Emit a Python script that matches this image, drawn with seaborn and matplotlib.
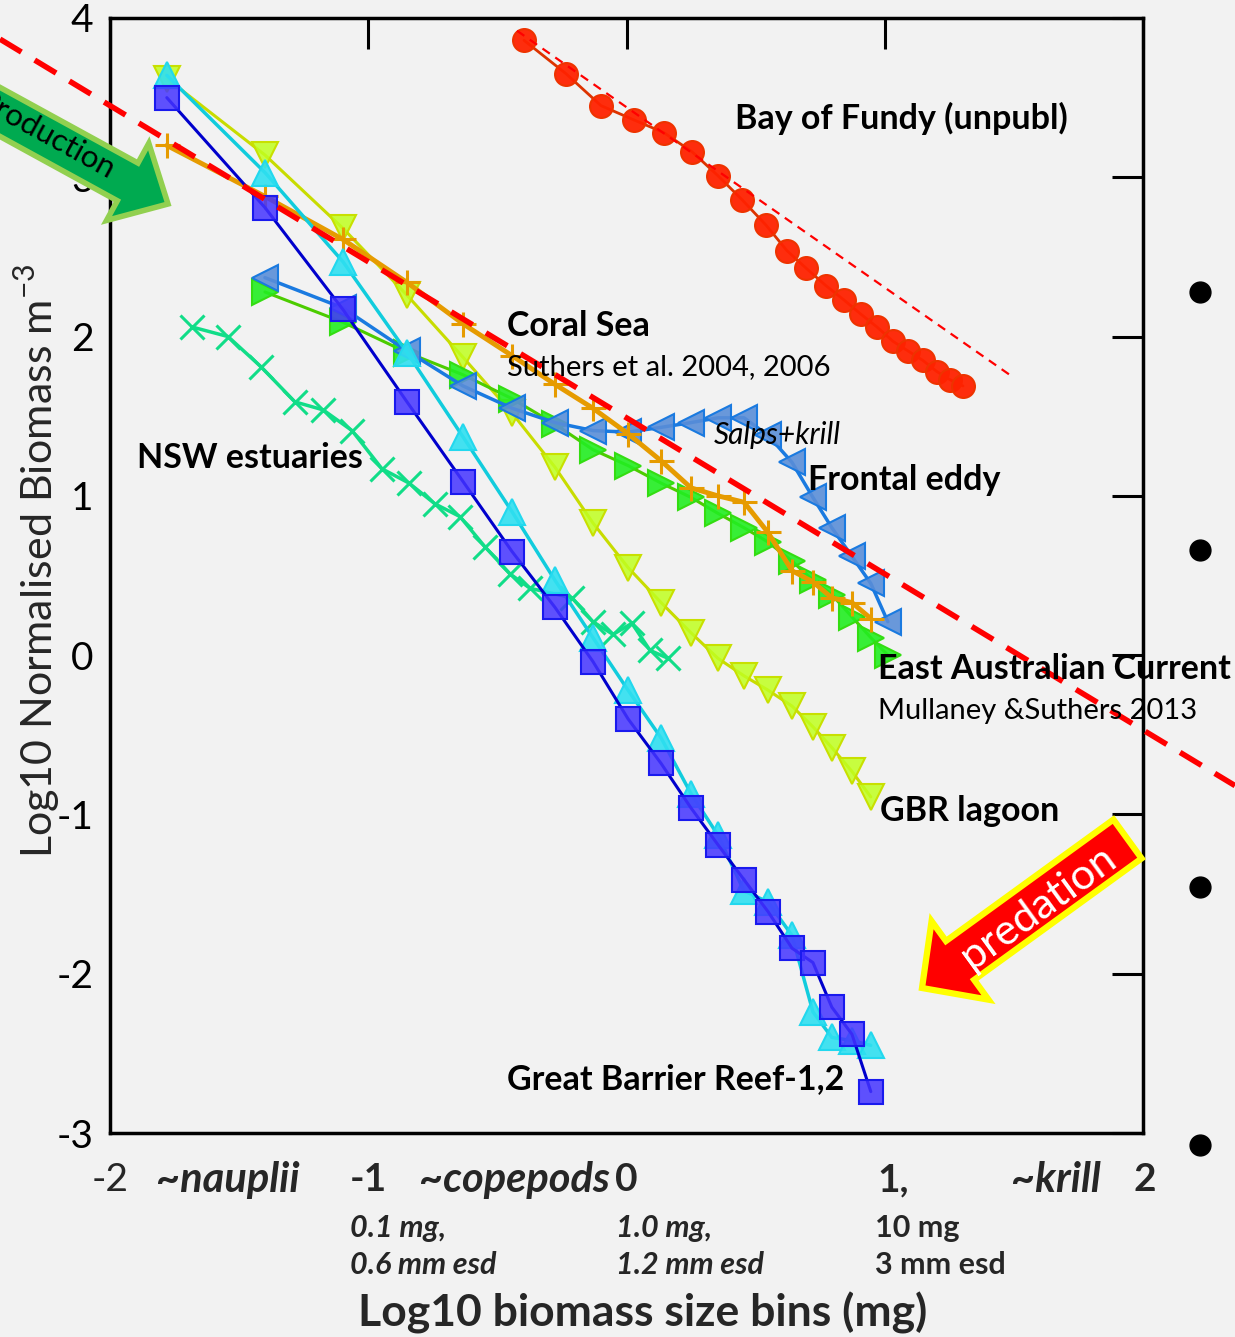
import numpy as np
import pandas as pd
import matplotlib
matplotlib.use("Agg")
import matplotlib.pyplot as plt
import seaborn as sns
from matplotlib.patches import FancyArrow
from matplotlib.lines import Line2D
from matplotlib.transforms import Affine2D

# ---------------- data ----------------
x_bins = [-1.780, -1.400, -1.098, -0.850, -0.633, -0.443, -0.277, -0.130, 0.006,
          0.134, 0.250, 0.354, 0.455, 0.548, 0.641, 0.722, 0.795, 0.873, 0.946]
x_bins_b = [-1.400, -1.098, -0.850, -0.633, -0.443, -0.277, -0.130, 0.006,
            0.134, 0.250, 0.354, 0.455, 0.548, 0.641, 0.722, 0.795, 0.873, 0.946, 1.012]

gbr1_y = [3.50, 2.81, 2.17, 1.59, 1.09, 0.65, 0.30, -0.04, -0.40, -0.68, -0.96,
          -1.19, -1.41, -1.61, -1.84, -1.93, -2.21, -2.38, -2.74]
gbr2_y = [3.64, 3.03, 2.47, 1.90, 1.37, 0.90, 0.47, 0.11, -0.22, -0.52, -0.87,
          -1.13, -1.48, -1.55, -1.76, -2.24, -2.40, -2.42, -2.45]
lagoon_y = [3.62, 3.14, 2.68, 2.26, 1.87, 1.52, 1.18, 0.83, 0.55, 0.33, 0.14,
            -0.02, -0.13, -0.22, -0.32, -0.45, -0.58, -0.73, -0.89]
coral_y = [3.20, 2.88, 2.61, 2.34, 2.08, 1.88, 1.70, 1.55, 1.39, 1.22, 1.05,
           1.00, 0.96, 0.77, 0.53, 0.46, 0.36, 0.33, 0.23]
eac_y = [2.28, 2.09, 1.90, 1.76, 1.61, 1.45, 1.29, 1.19, 1.08, 0.99, 0.89,
         0.80, 0.71, 0.59, 0.47, 0.38, 0.24, 0.11, 0.00]
eddy_y = [2.37, 2.18, 1.91, 1.69, 1.55, 1.46, 1.41, 1.40, 1.43, 1.46, 1.49,
          1.49, 1.38, 1.21, 0.99, 0.80, 0.62, 0.45, 0.21]

nsw_x = [-1.682, -1.543, -1.415, -1.284, -1.175, -1.063, -0.947, -0.842, -0.742,
         -0.645, -0.548, -0.451, -0.374, -0.211, -0.130, -0.052, 0.021, 0.091, 0.161]
nsw_y = [2.06, 2.00, 1.81, 1.59, 1.54, 1.41, 1.17, 1.08, 0.95, 0.87, 0.68, 0.51,
         0.42, 0.36, 0.21, 0.13, 0.20, 0.03, -0.02]

fundy_x = [-0.397, -0.234, -0.099, 0.029, 0.145, 0.254, 0.354, 0.447, 0.540, 0.621,
           0.695, 0.772, 0.842, 0.908, 0.970, 1.032, 1.090, 1.148, 1.202, 1.252, 1.303]
fundy_y = [3.86, 3.65, 3.45, 3.36, 3.28, 3.16, 3.01, 2.86, 2.70, 2.54, 2.43, 2.32,
           2.23, 2.14, 2.06, 1.97, 1.91, 1.85, 1.78, 1.73, 1.69]

# reference slopes
prod_line = {"intercept": 1.49, "slope": -0.98}
fundy_fit_x = [-0.424, 1.497]
fundy_fit_y = [3.92, 1.745]

y_ticks = [-3, -2, -1, 0, 1, 2, 3, 4]
x_ticks = [-2, -1, 0, 1, 2]

# ---------------- style ----------------
BG = "#f2f2f2"
sns.set_theme(style="white")
plt.rcParams["font.family"] = ["Lato", "DejaVu Sans"]
plt.rcParams["axes.unicode_minus"] = False
plt.rcParams["mathtext.fontset"] = "custom"
plt.rcParams["mathtext.rm"] = "Lato"

W, H = 1235, 1337
fig = plt.figure(figsize=(W / 100, H / 100), dpi=100, facecolor=BG)
ax = fig.add_axes([110 / W, 1 - 1133 / H, 1033 / W, 1115 / H])
ax.set_facecolor(BG)
ax.set_xlim(-2, 2)
ax.set_ylim(-3, 4)
for s in ax.spines.values():
    s.set_visible(True)
    s.set_color("black")
    s.set_linewidth(2.5)
ax.set_xticks(x_ticks)
ax.set_xticklabels([])
ax.set_yticks(y_ticks)
ax.set_yticklabels([str(v) for v in y_ticks])
ax.tick_params(direction="in", length=22, width=2.2, top=True, right=True,
               labelsize=28, pad=12, colors="black")

pix = Affine2D().scale(1 / 100.0) + fig.dpi_scale_trans  # image-pixel (y up)


def rgba(hexc, a):
    c = matplotlib.colors.to_rgba(hexc)
    return (c[0], c[1], c[2], a)


def series(xs, ys, marker, ms, line, face, edge, lw=2.0, mew=1.5, z=3):
    sns.lineplot(x=xs, y=ys, ax=ax, sort=False, estimator=None, color=line,
                 linewidth=lw, marker=marker, markersize=ms,
                 markerfacecolor=face, markeredgecolor=edge,
                 markeredgewidth=mew, zorder=z)


# NSW estuaries
series(nsw_x, nsw_y, "x", 17, "#11dd88", "#11dd88", "#11dd88", lw=2.5, mew=2.2, z=3)
# GBR lagoon
series(x_bins, lagoon_y, "v", 19, "#c8dc00", rgba("#c0ff20", 0.85), "#c8e000", lw=2.2, z=3)
# EAC
series(x_bins_b, eac_y, ">", 19, "#4ccc00", rgba("#22ee22", 0.9), "#33dd11", lw=2.2, z=4)
# Frontal eddy
series(x_bins_b, eddy_y, "<", 19, "#1a7ae0", rgba("#5a8ed8", 0.9), "#1a7ae0", lw=2.5, z=4)
# Coral Sea
series(x_bins, coral_y, "+", 18, "#e69b00", "#e69b00", "#e69b00", lw=3.5, mew=2.2, z=5)
# GBR-2
series(x_bins, gbr2_y, "^", 19, "#11ccdd", rgba("#30e0f0", 0.9), "#22d8ee", lw=2.5, z=5)
# GBR-1
series(x_bins, gbr1_y, "s", 17, "#0000cc", rgba("#4433ff", 0.85), "#1a1aee", lw=2.2, z=6)
# Bay of Fundy
series(fundy_x, fundy_y, "o", 16.5, "#dd3300", rgba("#ff2200", 0.95), "#ee3300", lw=2.0, z=6)

# Bay of Fundy fit (thin dashed)
ax.plot(fundy_fit_x, fundy_fit_y, color="#ff0000", lw=1.6, ls=(0, (4, 3)), zorder=7)

# production slope line (thick dashed, through whole figure width)
inv = ax.transData.inverted()
xl = inv.transform(fig.transFigure.transform((0, 0)))[0]
xr = inv.transform(fig.transFigure.transform((1, 0)))[0]
xx = np.array([xl, xr])
ax.plot(xx, prod_line["intercept"] + prod_line["slope"] * xx, color="#ff0000",
        lw=4, ls=(0, (4.5, 2.8)), zorder=8, clip_on=False)

# ---------------- series labels ----------------
lab = dict(color="black", ha="left", va="center", zorder=9)
BL = 24.5
ax.text(0.419, 3.37, "Bay of Fundy (unpubl)", fontsize=BL, fontweight="bold", **lab)
ax.text(-0.463, 2.065, "Coral Sea", fontsize=BL, fontweight="bold", **lab)
ax.text(-0.463, 1.81, "Suthers et al. 2004, 2006", fontsize=21, **lab)
ax.text(0.339, 1.38, "Salps+krill", fontsize=21.5, fontstyle="italic", **lab)
ax.text(0.703, 1.10, "Frontal eddy", fontsize=BL, fontweight="bold", **lab)
ax.text(-1.895, 1.237, "NSW estuaries", fontsize=BL, fontweight="bold", **lab)
ax.text(0.974, -0.088, "East Australian Current", fontsize=BL, fontweight="bold", **lab)
ax.text(0.974, -0.35, "Mullaney &Suthers 2013", fontsize=21, **lab)
ax.text(0.981, -0.98, "GBR lagoon", fontsize=BL, fontweight="bold", **lab)
ax.text(-0.463, -2.66, "Great Barrier Reef-1,2", fontsize=BL, fontweight="bold", **lab)

# ---------------- x tick labels / annotations ----------------
xt = ax.get_xaxis_transform()
r1 = -0.042
ax.text(-2.0, r1, "-2", transform=xt, fontsize=28, ha="center", va="center")
ax.text(-1.543, r1, "~nauplii", transform=xt, fontsize=30, fontweight="bold",
        fontstyle="italic", ha="center", va="center")
ax.text(-1.0, r1, "-1", transform=xt, fontsize=28, fontweight="bold", ha="center", va="center")
ax.text(-0.432, r1, "~copepods", transform=xt, fontsize=30, fontweight="bold",
        fontstyle="italic", ha="center", va="center")
ax.text(0.0, r1, "0", transform=xt, fontsize=28, fontweight="bold", ha="center", va="center")
ax.text(1.032, r1, "1,", transform=xt, fontsize=28, fontweight="bold", ha="center", va="center")
ax.text(1.663, r1, "~krill", transform=xt, fontsize=30, fontweight="bold",
        fontstyle="italic", ha="center", va="center")
ax.text(2.007, r1, "2", transform=xt, fontsize=28, fontweight="bold", ha="center", va="center")

r2, r3 = -0.085, -0.118
sub = dict(transform=xt, fontsize=22, fontweight="bold", ha="left", va="center")
ax.text(-1.07, r2, "0.1 mg,", fontstyle="italic", **sub)
ax.text(-1.07, r3, "0.6 mm esd", fontstyle="italic", **sub)
ax.text(-0.04, r2, "1.0 mg,", fontstyle="italic", **sub)
ax.text(-0.04, r3, "1.2 mm esd", fontstyle="italic", **sub)
ax.text(0.962, r2, "10 mg", **sub)
ax.text(0.962, r3, "3 mm esd", **sub)

ax.text(0.516, -0.161, "Log10 biomass size bins (mg)", transform=ax.transAxes,
        fontsize=32, fontweight="bold", ha="center", va="center")
ax.text((37 - 110) / 1033, 0.513, "Log10 Normalised Biomass m$^{-3}$",
        transform=ax.transAxes, fontsize=31, rotation=90, ha="center", va="center")

# ---------------- arrows ----------------
g_start = (-40, H - 90)
g_tip = (168, H - 204)
ga = FancyArrow(g_start[0], g_start[1], g_tip[0] - g_start[0], g_tip[1] - g_start[1],
                width=43, head_width=88, head_length=46, length_includes_head=True,
                transform=pix, facecolor="#00aa50", edgecolor="#92d050", linewidth=4,
                zorder=20, clip_on=False)
fig.add_artist(ga)
fig.text(112, H - 172, "Production", transform=pix, fontsize=22.5, rotation=-28.8,
         rotation_mode="anchor", ha="right", va="center", color="black", zorder=21)

r_start = (1127.5, H - 839)
r_tip = (922, H - 988)
ra = FancyArrow(r_start[0], r_start[1], r_tip[0] - r_start[0], r_tip[1] - r_start[1],
                width=48, head_width=97, head_length=47, length_includes_head=True,
                transform=pix, facecolor="#ff0000", edgecolor="#ffff00", linewidth=4.5,
                zorder=20, clip_on=False)
fig.add_artist(ra)
fig.text(1038, H - 907, "predation", transform=pix, fontsize=31, rotation=36,
         rotation_mode="anchor", ha="center", va="center", color="white", zorder=21)

# ---------------- slide bullets ----------------
for by in [292, 550, 887, 1145]:
    fig.add_artist(Line2D([1200 / W], [1 - by / H], marker="o", markersize=15,
                          color="black", transform=fig.transFigure))

fig.savefig("out.png", dpi=100, facecolor=BG)
